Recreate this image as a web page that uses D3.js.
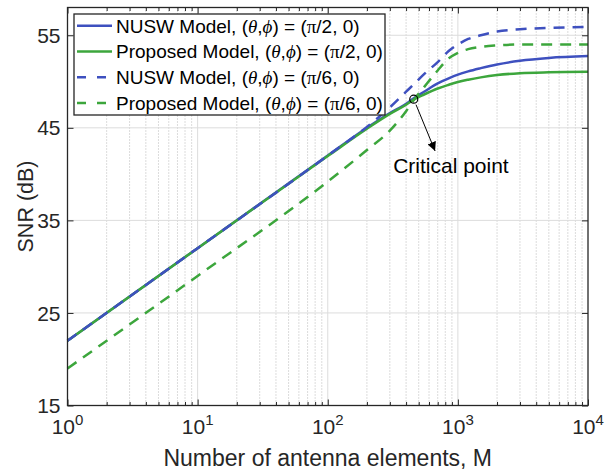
<!DOCTYPE html>
<html>
<head>
<meta charset="utf-8">
<script src="https://cdn.jsdelivr.net/npm/d3@7"></script>
<style>
  body { margin: 0; background: #fff; }
  svg text { font-family: "Liberation Sans", Arial, Helvetica, sans-serif; fill: #262626; }
</style>
</head>
<body>
<svg id="chart" width="605" height="471"></svg>
<script>
// number of antenna elements (x) where the curves were read
var antennaM = [1, 10, 100, 200, 300, 400, 458, 550, 700, 850, 1000, 1200, 1500, 2000, 3000, 5000, 10000];

// SNR (dB)
var nuswHalfPi  = [22, 32, 42, 45.0, 46.6, 47.6, 48.2, 48.9, 49.8, 50.35, 50.75, 51.1, 51.45, 51.85, 52.25, 52.55, 52.75];
var propHalfPi  = [22, 32, 41.95, 44.9, 46.5, 47.5, 48.05, 48.6, 49.25, 49.65, 49.95, 50.2, 50.45, 50.7, 50.9, 51.0, 51.05];
var nuswSixthPi = [22, 32, 42, 45.1, 47.2, 48.9, 49.7, 50.8, 52.1, 53.3, 54.0, 54.6, 55.0, 55.4, 55.65, 55.8, 55.9];
var propSixthPi = [19, 29, 39.2, 42.6, 44.7, 46.8, 48.0, 49.4, 51.2, 52.5, 53.1, 53.5, 53.75, 53.9, 54.0, 54.0, 54.0];

var xTicks = [1, 10, 100, 1000, 10000];
var xTickExp = ["0", "1", "2", "3", "4"];
var yTicks = [15, 25, 35, 45, 55];

// critical point and its annotation (data coords)
var critical = { m: 458, snr: 48.1 };
var arrowEnd = { m: 668, snr: 42.5 };
var noteText = { m: 318, snr: 40.1, label: "Critical point" };

(function() {

    // drawn in this order, same as the legend
    var series = [
        { name: "NUSW Model", angle: "2", values: nuswHalfPi, color: "#3e50bf", dash: null },
        { name: "Proposed Model", angle: "2", values: propHalfPi, color: "#3ca63c", dash: null },
        { name: "NUSW Model", angle: "6", values: nuswSixthPi, color: "#3e50bf", dash: "11,8" },
        { name: "Proposed Model", angle: "6", values: propSixthPi, color: "#3ca63c", dash: "11,8" }
    ];

    var pl = 67.5, pr = 588, pt = 7.5, pb = 405.5;

    var svg = d3.select("#chart");

    var x = d3.scaleLog().domain([1, 10000]).range([pl, pr]);
    var y = d3.scaleLinear().domain([15, 58]).range([pb, pt]);

    // minor x grid (dotted)
    var minor = [];
    for (var d = 0; d < 4; d++) {
        for (var k = 2; k <= 9; k++) minor.push(k * Math.pow(10, d));
    }

    var grid = svg.append("g");
    grid.selectAll(".minor")
        .data(minor)
        .enter()
        .append("line")
        .attr("x1", d => x(d)).attr("x2", d => x(d))
        .attr("y1", pt).attr("y2", pb)
        .attr("stroke", "#b8b8b8")
        .attr("stroke-width", 1)
        .attr("stroke-dasharray", "1,2");

    grid.selectAll(".vmaj")
        .data(xTicks.slice(1, -1))
        .enter()
        .append("line")
        .attr("x1", d => x(d)).attr("x2", d => x(d))
        .attr("y1", pt).attr("y2", pb)
        .attr("stroke", "#dcdcdc")
        .attr("stroke-width", 1);

    grid.selectAll(".hmaj")
        .data(yTicks.slice(1))
        .enter()
        .append("line")
        .attr("x1", pl).attr("x2", pr)
        .attr("y1", d => y(d)).attr("y2", d => y(d))
        .attr("stroke", "#dcdcdc")
        .attr("stroke-width", 1);

    // curves
    var line = d3.line()
        .x((d, i) => x(antennaM[i]))
        .y(d => y(d))
        .curve(d3.curveMonotoneX);

    svg.append("g")
        .selectAll("path")
        .data(series)
        .enter()
        .append("path")
        .attr("d", d => line(d.values))
        .attr("fill", "none")
        .attr("stroke", d => d.color)
        .attr("stroke-width", 2.5)
        .attr("stroke-dasharray", d => d.dash);

    // axes box with inward ticks
    var axisG = svg.append("g");
    axisG.append("g")
        .attr("transform", "translate(0," + pb + ")")
        .call(d3.axisBottom(x).tickValues(xTicks).tickSize(-6).tickFormat(""));
    axisG.append("g")
        .attr("transform", "translate(0," + pt + ")")
        .call(d3.axisTop(x).tickValues(xTicks).tickSize(-6).tickFormat(""));
    axisG.append("g")
        .attr("transform", "translate(0," + pb + ")")
        .call(d3.axisBottom(x).tickValues(minor).tickSize(-3.5).tickFormat(""));
    axisG.append("g")
        .attr("transform", "translate(0," + pt + ")")
        .call(d3.axisTop(x).tickValues(minor).tickSize(-3.5).tickFormat(""));
    axisG.append("g")
        .attr("transform", "translate(" + pl + ",0)")
        .call(d3.axisLeft(y).tickValues(yTicks).tickSize(-6).tickFormat(""));
    axisG.append("g")
        .attr("transform", "translate(" + pr + ",0)")
        .call(d3.axisRight(y).tickValues(yTicks).tickSize(-6).tickFormat(""));
    axisG.selectAll("path.domain").remove();
    axisG.selectAll("line").attr("stroke", "#262626").attr("stroke-width", 1);

    svg.append("rect")
        .attr("x", pl).attr("y", pt)
        .attr("width", pr - pl).attr("height", pb - pt)
        .attr("fill", "none")
        .attr("stroke", "#262626")
        .attr("stroke-width", 1.3);

    // tick labels
    svg.selectAll(".ylab")
        .data(yTicks)
        .enter()
        .append("text")
        .attr("x", pl - 7)
        .attr("y", d => y(d))
        .attr("dy", "0.36em")
        .attr("text-anchor", "end")
        .attr("font-size", 21)
        .text(d => d);

    var xl = svg.selectAll(".xlab")
        .data(xTicks)
        .enter()
        .append("text")
        .attr("x", d => x(d))
        .attr("y", 434)
        .attr("text-anchor", "middle")
        .attr("font-size", 21);
    xl.append("tspan").text("10");
    xl.append("tspan").attr("dy", -9).attr("font-size", 15).text((d, i) => xTickExp[i]);

    // axis titles
    svg.append("text")
        .attr("x", (pl + pr) / 2)
        .attr("y", 466)
        .attr("text-anchor", "middle")
        .attr("font-size", 23)
        .text("Number of antenna elements, M");

    svg.append("text")
        .attr("transform", "translate(33," + ((pt + pb) / 2) + ") rotate(-90)")
        .attr("text-anchor", "middle")
        .attr("font-size", 21.5)
        .text("SNR (dB)");

    // critical point marker + arrow
    svg.append("defs").append("marker")
        .attr("id", "head")
        .attr("viewBox", "0 0 10 10")
        .attr("refX", 10).attr("refY", 5)
        .attr("markerWidth", 9).attr("markerHeight", 9)
        .attr("markerUnits", "userSpaceOnUse")
        .attr("orient", "auto")
        .append("path")
        .attr("d", "M0,0 L10,5 L0,10 z")
        .attr("fill", "#000");

    var cx = x(critical.m), cy = y(critical.snr);
    var ex = x(arrowEnd.m), ey = y(arrowEnd.snr);
    var ang = Math.atan2(ey - cy, ex - cx);

    svg.append("line")
        .attr("x1", cx + 6 * Math.cos(ang)).attr("y1", cy + 6 * Math.sin(ang))
        .attr("x2", ex).attr("y2", ey)
        .attr("stroke", "#000")
        .attr("stroke-width", 1)
        .attr("marker-end", "url(#head)");

    svg.append("circle")
        .attr("cx", cx).attr("cy", cy)
        .attr("r", 4)
        .attr("fill", "none")
        .attr("stroke", "#000")
        .attr("stroke-width", 1.2);

    svg.append("text")
        .attr("x", x(noteText.m))
        .attr("y", y(noteText.snr))
        .attr("font-size", 21)
        .style("fill", "#000")
        .text(noteText.label);

    // legend
    var lg = svg.append("g");
    lg.append("rect")
        .attr("x", 74).attr("y", 14)
        .attr("width", 311).attr("height", 101)
        .attr("fill", "#fff")
        .attr("stroke", "#262626")
        .attr("stroke-width", 1.3);

    series.forEach((s, row) => {
        var ry = 25.7 + row * 25.8;
        lg.append("line")
            .attr("x1", 77).attr("x2", 112)
            .attr("y1", ry).attr("y2", ry)
            .attr("stroke", s.color)
            .attr("stroke-width", 2.5)
            .attr("stroke-dasharray", s.dash ? "9,11" : null);
        var t = lg.append("text")
            .attr("x", 116)
            .attr("y", ry)
            .attr("dy", "0.36em")
            .attr("font-size", 19)
            .style("fill", "#000");
        t.append("tspan").text(s.name + ", (");
        t.append("tspan").attr("font-family", "Liberation Serif").attr("font-style", "italic").text("θ");
        t.append("tspan").text(",");
        t.append("tspan").attr("font-family", "Liberation Serif").attr("font-style", "italic").text("ϕ");
        t.append("tspan").text(") = (");
        t.append("tspan").attr("font-family", "Liberation Serif").text("π");
        t.append("tspan").text("/" + s.angle + ", 0)");
    });

})();
</script>
</body>
</html>
